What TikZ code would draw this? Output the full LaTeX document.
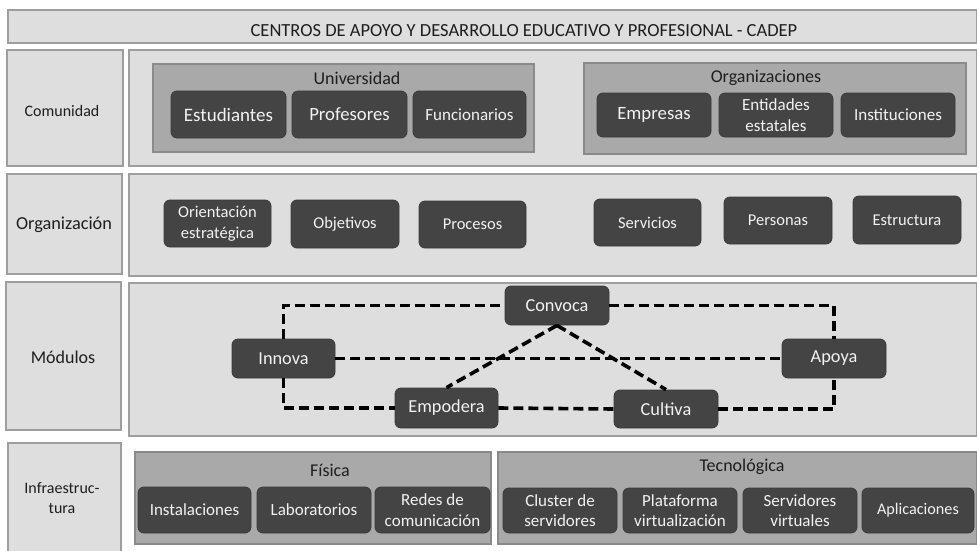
\documentclass[tikz,border=0pt]{standalone}
\usepackage{fontspec}
\setmainfont{Carlito}
\definecolor{lightfill}{HTML}{DEDEDE}
\definecolor{lightline}{HTML}{9E9E9E}
\definecolor{groupfill}{HTML}{A9A9A9}
\definecolor{groupline}{HTML}{8A8A8A}
\definecolor{darkfill}{HTML}{444444}
\definecolor{darkline}{HTML}{3A3A3A}
\definecolor{txt}{HTML}{1E1E1E}
\newcommand{\fs}[1]{\fontsize{#1}{20.5}\selectfont}
\tikzset{
  lightbox/.style={fill=lightfill, draw=lightline, line width=1.2pt},
  groupbox/.style={fill=groupfill, draw=groupline, line width=1.2pt},
  dk/.style={fill=darkfill, draw=darkline, line width=0.8pt, rounded corners=6pt,
    text=white!95!black, align=center, inner sep=0pt},
  lbl/.style={text=txt, align=center, inner sep=0pt},
  dashline/.style={draw=black, line width=3.6pt, dash pattern=on 10pt off 5pt},
}
\begin{document}
\begin{tikzpicture}[x=1pt,y=-1pt]
\useasboundingbox (0,0) rectangle (977,551);
\fill[white] (0,0) rectangle (977,551);
% title
\path[lightbox] (8,10) rectangle (977,43);
\node[lbl, font=\fs{18.5}] (title) at (524,31) {CENTROS DE APOYO Y DESARROLLO EDUCATIVO Y PROFESIONAL - CADEP};
% row frames
\path[lightbox] (7,50) rectangle (123,166);
\path[lightbox] (129,50) rectangle (977,166);
\path[lightbox] (7,174) rectangle (122,274);
\path[lightbox] (129,174) rectangle (977,276);
\path[lightbox] (6,282) rectangle (121,430);
\path[lightbox] (129,283) rectangle (977,436);
\path[lightbox] (8,443) rectangle (121,552);
% row labels
\node[lbl, font=\fs{16}] (lcom) at (62,111) {Comunidad};
\node[lbl, font=\fs{18.3}] (lorg) at (64,225) {Organización};
\node[lbl, font=\fs{18}] (lmod) at (63,357) {Módulos};
\node[lbl, font=\fs{16}] (linf) at (62,498) {Infraestruc-\\tura};
% Comunidad
\path[groupbox] (153,64) rectangle (534,152);
\node[lbl, font=\fs{18}] (univ) at (357,78) {Universidad};
\node[dk, font=\fs{19}, minimum width=115, minimum height=47] (estud) at (228.5,114.5) {Estudiantes};
\node[dk, font=\fs{18.7}, minimum width=115, minimum height=47] (prof) at (349.5,114.5) {Profesores};
\node[dk, font=\fs{17}, minimum width=113, minimum height=47] (func) at (469.5,114.5) {Funcionarios};
\path[groupbox] (584,63) rectangle (966,154);
\node[lbl, font=\fs{18}] (orgs) at (766,78) {Organizaciones};
\node[dk, font=\fs{18.8}, minimum width=114, minimum height=44] (empr) at (654,115) {Empresas};
\node[dk, font=\fs{17}, minimum width=114, minimum height=44] (entid) at (776,115) {Entidades\\estatales};
\node[dk, font=\fs{17}, minimum width=114, minimum height=44] (instit) at (898,115) {Instituciones};
% Organizacion
\node[dk, font=\fs{16.5}, minimum width=107, minimum height=47] (orient) at (217.5,223.5) {Orientación\\estratégica};
\node[dk, font=\fs{16.5}, minimum width=108, minimum height=48] (objet) at (345,224) {Objetivos};
\node[dk, font=\fs{16.5}, minimum width=107, minimum height=47] (proc) at (472.5,224.5) {Procesos};
\node[dk, font=\fs{16.5}, minimum width=107, minimum height=47] (serv) at (647.5,222.5) {Servicios};
\node[dk, font=\fs{16.5}, minimum width=108, minimum height=47] (pers) at (778,220.5) {Personas};
\node[dk, font=\fs{16.5}, minimum width=108, minimum height=48] (estr) at (907,220) {Estructura};
% Modulos
\node[dk, font=\fs{18.3}, minimum width=103, minimum height=39] (innova) at (283.5,358.5) {Innova};
\node[dk, font=\fs{18.3}, minimum width=103, minimum height=40] (empod) at (446.5,408) {Empodera};
\node[dk, font=\fs{18.3}, minimum width=104, minimum height=39] (convoca) at (557,305.5) {Convoca};
\node[dk, font=\fs{18.3}, minimum width=104, minimum height=39] (apoya) at (834,358.5) {Apoya};
\node[dk, font=\fs{18.3}, minimum width=104, minimum height=38] (cultiva) at (666,409) {Cultiva};
\draw[dashline] (innova.north) |- (convoca.west);
\draw[dashline] (convoca.east) -| (apoya.north);
\draw[dashline] (innova.south) |- (empod.west);
\draw[dashline] (empod.east) -- (cultiva.west);
\draw[dashline] (cultiva.east) -| (apoya.south);
\draw[dashline] (innova.east) -- (apoya.west);
\draw[dashline] (convoca.south) -- (empod.north);
\draw[dashline] (convoca.south) -- (cultiva.north);
% Infraestructura
\path[groupbox] (135,452) rectangle (491,544);
\node[lbl, font=\fs{18}] (fisica) at (330,470) {Física};
\node[dk, font=\fs{17}, minimum width=113, minimum height=46] (inst) at (194.5,510) {Instalaciones};
\node[dk, font=\fs{17}, minimum width=114, minimum height=46] (lab) at (314,510) {Laboratorios};
\node[dk, font=\fs{17}, minimum width=115, minimum height=46] (redes) at (432.5,510) {Redes de\\comunicación};
\path[groupbox] (498,452) rectangle (977,544);
\node[lbl, font=\fs{18}] (tecno) at (742,467) {Tecnológica};
\node[dk, font=\fs{17}, minimum width=114, minimum height=45] (cluster) at (560,510.5) {Cluster de\\servidores};
\node[dk, font=\fs{17}, minimum width=114, minimum height=45] (plat) at (680,510.5) {Plataforma\\virtualización};
\node[dk, font=\fs{17}, minimum width=114, minimum height=45] (svirt) at (800,510.5) {Servidores\\virtuales};
\node[dk, font=\fs{16.2}, minimum width=112, minimum height=45] (aplic) at (918,510.5) {Aplicaciones};
\end{tikzpicture}
\end{document}
